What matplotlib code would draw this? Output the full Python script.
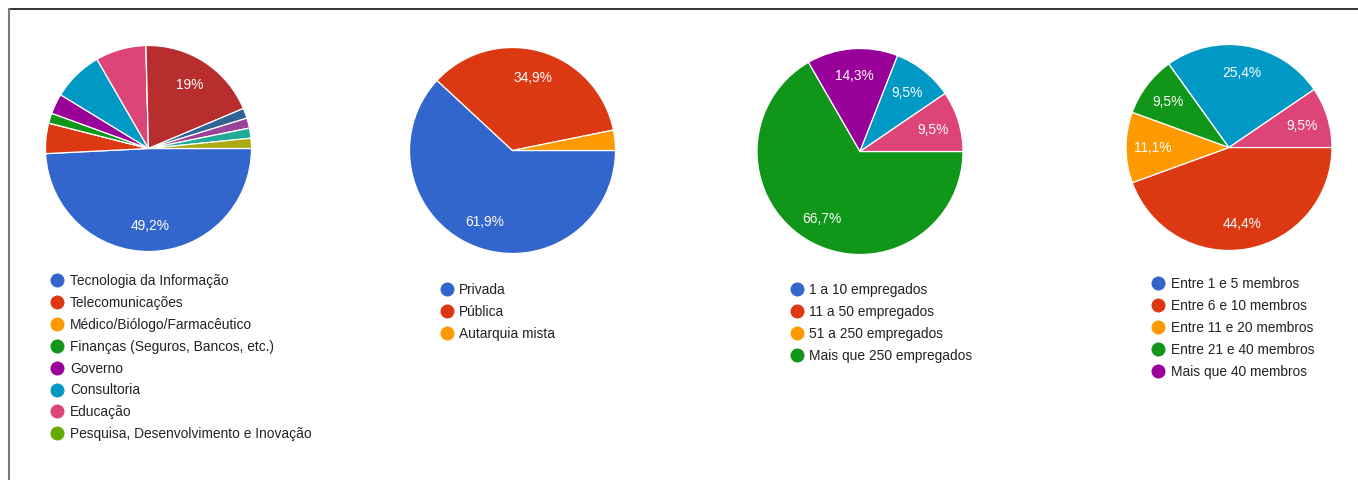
import numpy as np
import matplotlib
matplotlib.use("Agg")
import matplotlib.pyplot as plt
from matplotlib.lines import Line2D

plt.rcParams['font.family'] = ['Liberation Sans', 'DejaVu Sans']

W, H = 1358, 481
DPI = 100

palette = ["#3366cc", "#dc3912", "#ff9900", "#109618", "#990099", "#0099c6",
           "#dd4477", "#66aa00", "#b82e2e", "#316395", "#994499", "#22aa99", "#aaaa11"]

# ---- data (respondent counts, n = 63) ----
area_legend = ["Tecnologia da Informação", "Telecomunicações", "Médico/Biólogo/Farmacêutico",
               "Finanças (Seguros, Bancos, etc.)", "Governo", "Consultoria", "Educação",
               "Pesquisa, Desenvolvimento e Inovação"]
area_values = [31, 3, 0, 1, 2, 5, 5, 0, 12, 1, 1, 1, 1]
area_labels = ["49,2%", "", "", "", "", "", "", "", "19%", "", "", "", ""]

tipo_legend = ["Privada", "Pública", "Autarquia mista"]
tipo_values = [39, 22, 2]
tipo_labels = ["61,9%", "34,9%", ""]

porte_legend = ["1 a 10 empregados", "11 a 50 empregados", "51 a 250 empregados",
                "Mais que 250 empregados"]
porte_values = [0, 0, 0, 42, 9, 6, 6]
porte_labels = ["", "", "", "66,7%", "14,3%", "9,5%", "9,5%"]

equipe_legend = ["Entre 1 e 5 membros", "Entre 6 e 10 membros", "Entre 11 e 20 membros",
                 "Entre 21 e 40 membros", "Mais que 40 membros"]
equipe_values = [0, 28, 7, 6, 0, 16, 6]
equipe_labels = ["", "44,4%", "11,1%", "9,5%", "", "25,4%", "9,5%"]

charts = [
    dict(values=area_values, labels=area_labels, legend=area_legend,
         center=(148.5, 149.5), leg_marker_x=57, leg_text_x=70, leg_y0=281),
    dict(values=tipo_values, labels=tipo_labels, legend=tipo_legend,
         center=(512.5, 151.5), leg_marker_x=447, leg_text_x=459, leg_y0=290),
    dict(values=porte_values, labels=porte_labels, legend=porte_legend,
         center=(860, 152.5), leg_marker_x=797, leg_text_x=809, leg_y0=290),
    dict(values=equipe_values, labels=equipe_labels, legend=equipe_legend,
         center=(1229, 148.5), leg_marker_x=1158, leg_text_x=1171, leg_y0=284),
]

R = 103
ROW = 21.9
FS = 13.8 * 72 / DPI

fig = plt.figure(figsize=(W / DPI, H / DPI), dpi=DPI)
fig.patch.set_facecolor("white")

for ch in charts:
    cx, cy = ch["center"]
    ax = fig.add_axes([(cx - R) / W, (H - cy - R) / H, 2 * R / W, 2 * R / H])
    vals = ch["values"]
    wedges, _ = ax.pie(vals, colors=palette[:len(vals)], startangle=0, counterclock=False,
                       radius=1.0, wedgeprops=dict(edgecolor="white", linewidth=0.9))
    ax.set_xlim(-1, 1)
    ax.set_ylim(-1, 1)
    ax.set_aspect("equal")
    ax.axis("off")
    for w, lab in zip(wedges, ch["labels"]):
        if not lab:
            continue
        ang = np.deg2rad((w.theta1 + w.theta2) / 2)
        ax.text(0.74 * np.cos(ang), 0.74 * np.sin(ang), lab, color="white",
                fontsize=FS, ha="center", va="center")
    # legend
    for i, name in enumerate(ch["legend"]):
        y = ch["leg_y0"] + i * ROW
        fig.add_artist(Line2D([ch["leg_marker_x"] / W], [1 - y / H], marker="o",
                              markersize=14 * 72 / DPI, color=palette[i],
                              markeredgewidth=0, transform=fig.transFigure))
        fig.text(ch["leg_text_x"] / W, 1 - y / H, name, fontsize=FS, color="#222222",
                 ha="left", va="center")

# frame lines
fig.add_artist(Line2D([8 / W, 1], [1 - 9.5 / H, 1 - 9.5 / H], color="#111111",
                      linewidth=1.2, transform=fig.transFigure, solid_capstyle="butt"))
fig.add_artist(Line2D([8.5 / W, 8.5 / W], [0, 1 - 9 / H], color="#7a7a7a",
                      linewidth=1.5, transform=fig.transFigure, solid_capstyle="butt"))

fig.savefig("out.png", dpi=DPI, facecolor="white")
